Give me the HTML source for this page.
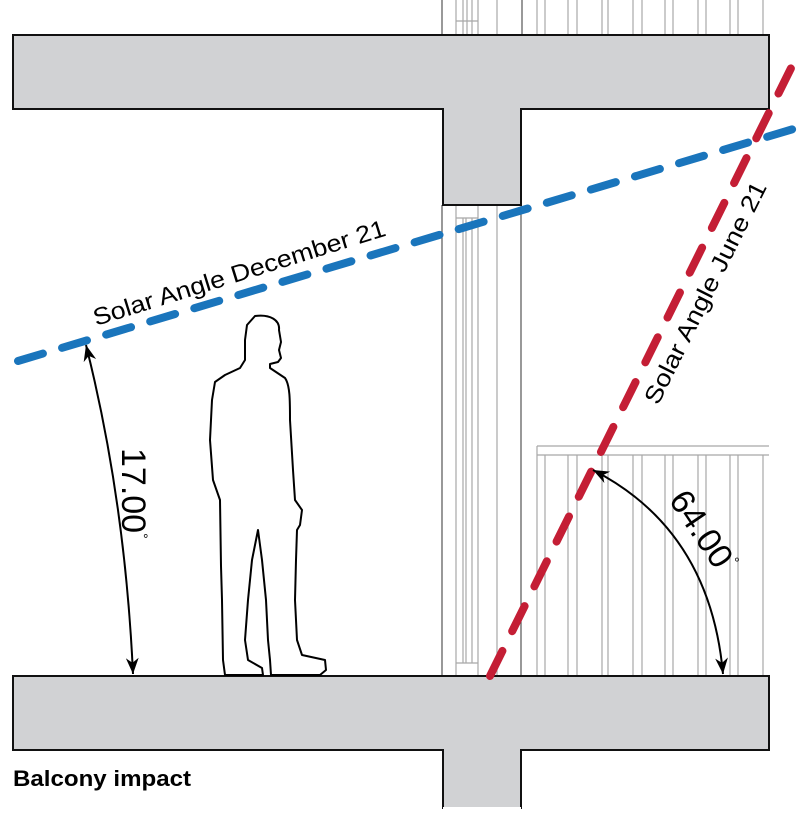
<!DOCTYPE html>
<html><head><meta charset="utf-8"><style>html,body{margin:0;padding:0;background:#fff}svg{display:block}</style></head>
<body>
<svg width="800" height="814" viewBox="0 0 800 814" xmlns="http://www.w3.org/2000/svg" font-family="Liberation Sans, sans-serif">
<g stroke="#a8a8a8" stroke-width="1.2">
<line x1="456" y1="0" x2="456" y2="35"/><line x1="463" y1="0" x2="463" y2="35"/><line x1="467" y1="0" x2="467" y2="35"/><line x1="472" y1="0" x2="472" y2="35"/><line x1="478" y1="0" x2="478" y2="35"/><line x1="497" y1="0" x2="497" y2="35"/>
<line x1="456" y1="21" x2="478" y2="21"/>
<line x1="537" y1="0" x2="537" y2="35"/><line x1="545" y1="0" x2="545" y2="35"/><line x1="568" y1="0" x2="568" y2="35"/><line x1="577" y1="0" x2="577" y2="35"/><line x1="602" y1="0" x2="602" y2="35"/><line x1="608" y1="0" x2="608" y2="35"/><line x1="633" y1="0" x2="633" y2="35"/><line x1="642" y1="0" x2="642" y2="35"/><line x1="665" y1="0" x2="665" y2="35"/><line x1="673" y1="0" x2="673" y2="35"/><line x1="698" y1="0" x2="698" y2="35"/><line x1="706" y1="0" x2="706" y2="35"/><line x1="730" y1="0" x2="730" y2="35"/><line x1="738" y1="0" x2="738" y2="35"/><line x1="763" y1="0" x2="763" y2="35"/>
</g>
<g stroke="#555" stroke-width="1.2"><line x1="442" y1="0" x2="442" y2="35"/><line x1="522" y1="0" x2="522" y2="35"/></g>
<g stroke="#a8a8a8" stroke-width="1.2">
<line x1="456" y1="205" x2="456" y2="676"/><line x1="463" y1="218" x2="463" y2="663"/><line x1="466" y1="218" x2="466" y2="663"/><line x1="472" y1="218" x2="472" y2="663"/><line x1="478" y1="205" x2="478" y2="676"/><line x1="497" y1="205" x2="497" y2="676"/>
<line x1="456" y1="218" x2="478" y2="218"/><line x1="456" y1="663" x2="478" y2="663"/>
</g>
<g stroke="#555" stroke-width="1.2"><line x1="442" y1="205" x2="442" y2="676"/><line x1="521" y1="205" x2="521" y2="676"/></g>
<g stroke="#a8a8a8" stroke-width="1.2">
<line x1="537" y1="446" x2="769" y2="446"/><line x1="537" y1="455" x2="769" y2="455"/>
<line x1="537" y1="446" x2="537" y2="676"/><line x1="545" y1="455" x2="545" y2="676"/><line x1="568" y1="455" x2="568" y2="676"/><line x1="577" y1="455" x2="577" y2="676"/><line x1="602" y1="455" x2="602" y2="676"/><line x1="608" y1="455" x2="608" y2="676"/><line x1="633" y1="455" x2="633" y2="676"/><line x1="642" y1="455" x2="642" y2="676"/><line x1="665" y1="455" x2="665" y2="676"/><line x1="673" y1="455" x2="673" y2="676"/><line x1="698" y1="455" x2="698" y2="676"/><line x1="706" y1="455" x2="706" y2="676"/><line x1="730" y1="455" x2="730" y2="676"/><line x1="738" y1="455" x2="738" y2="676"/><line x1="763" y1="455" x2="763" y2="676"/>
</g>
<path d="M13,35 H769 V109 H521 V205 H443 V109 H13 Z" fill="#d1d2d4" stroke="#111" stroke-width="2"/>
<path d="M13,676 H769 V750 H521 V808 H443 V750 H13 Z" fill="#d1d2d4" stroke="#111" stroke-width="2"/>
<rect x="443" y="807" width="78" height="7" fill="#fff"/>
<path d="M255,316 C270,314 280,320 279,330 L281,342 L279,350 L281,358 L278,362 L270,364 L270,368 L285,378 C290,385 290,400 290,420 L293,470 L295,500 L302,510 L300,525 L297,530 L296,560 L295,600 L297,640 L302,655 L325,660 L326,670 L320,675 L271,675 L270,660 L268,640 L266,600 L262,560 L258,530 L252,560 L248,600 L245,640 L248,660 L262,668 L263,675 L225,675 L223,660 L222,600 L221,566 L220,500 L213,480 L210,440 L212,400 L215,382 L225,375 L240,368 L245,360 L245,340 L247,325 Z" fill="#fff" stroke="#000" stroke-width="2" stroke-linejoin="round"/>
<line x1="18" y1="361" x2="800" y2="127" stroke="#1a75bc" stroke-width="8" stroke-linecap="round" stroke-dasharray="26 20"/>
<line x1="490" y1="676" x2="800" y2="50" stroke="#c41e35" stroke-width="8" stroke-linecap="round" stroke-dasharray="28 22"/>
<text transform="translate(96,326) rotate(-17.3)" font-size="24" textLength="305" lengthAdjust="spacingAndGlyphs">Solar Angle December 21</text>
<text transform="translate(658,406) rotate(-63.5)" font-size="24" textLength="245" lengthAdjust="spacingAndGlyphs">Solar Angle June 21</text>
<defs><marker id="a" viewBox="0 0 10 10" refX="10" refY="5" markerWidth="8" markerHeight="8" orient="auto-start-reverse"><path d="M0,1 L10,5 L0,9 L3,5 Z" fill="#000"/></marker></defs>
<path d="M86,345 Q125,500 133,674" fill="none" stroke="#000" stroke-width="2" marker-start="url(#a)" marker-end="url(#a)"/>
<path d="M593,470 Q710,530 723,674" fill="none" stroke="#000" stroke-width="2" marker-start="url(#a)" marker-end="url(#a)"/>
<text transform="translate(122,448) rotate(90)" font-size="34">17.00<tspan font-size="14" dy="-16">°</tspan></text>
<text transform="translate(668,500) rotate(56)" font-size="34">64.00<tspan font-size="14" dy="-16">°</tspan></text>
<text x="13" y="786" font-size="22" font-weight="bold" textLength="178" lengthAdjust="spacingAndGlyphs">Balcony impact</text>
</svg>
</body></html>
